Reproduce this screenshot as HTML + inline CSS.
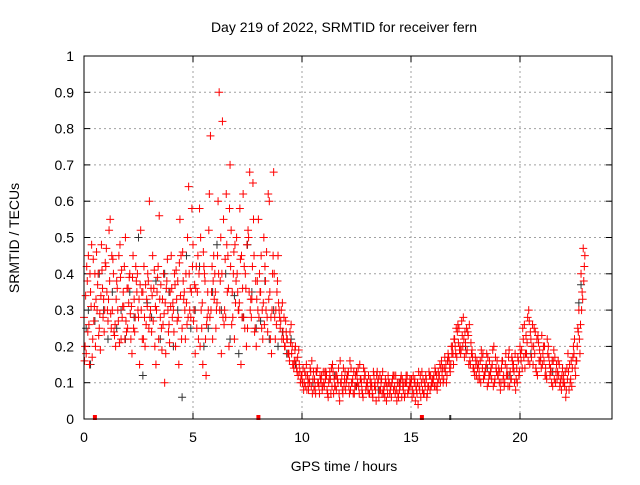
<!DOCTYPE html>
<html><head><meta charset="utf-8"><style>
body{margin:0;background:#fff}
svg text{font-family:"Liberation Sans",sans-serif;font-size:14px;fill:#000}
</style></head><body>
<svg id="chart" width="640" height="480" xmlns="http://www.w3.org/2000/svg">
<rect width="640" height="480" fill="#fff"/>
<text x="344" y="32" text-anchor="middle">Day 219 of 2022, SRMTID for receiver fern</text>
<text x="344" y="471" text-anchor="middle">GPS time / hours</text>
<text transform="translate(19,238) rotate(-90)" text-anchor="middle">SRMTID / TECUs</text>
<g id="grid"></g>
<g id="ticks"></g>
<g id="marks"></g>
<rect x="84" y="56" width="528" height="363" fill="none" stroke="#000" stroke-width="1"/>
</svg>
<script>
const xTicks=[0,5,10,15,20];
const yTicks=[0,0.1,0.2,0.3,0.4,0.5,0.6,0.7,0.8,0.9,1];
const yTickLabels=["0","0.1","0.2","0.3","0.4","0.5","0.6","0.7","0.8","0.9","1"];
const redA=[
.28,.18,.45,.35,.22,.40,.30,.25,.48,.33,
.42,.27,.55,.30,.23,.38,.45,.22,.35,.50,
.25,.40,.18,.33,.38,.28,.52,.35,.20,.31,
.60,.24,.36,.15,.42,.28,.33,.10,.38,.26,
.45,.30,.20,.38,.55,.25,.35,.32,.64,.28,
.48,.18,.35,.58,.25,.42,.12,.30,.78,.22,
.40,.32,.90,.18,.55,.28,.45,.70,.35,.22,
.50,.30,.15,.62,.40,.25,.68,.33,.45,.20,
.55,.35,.22,.42,.28,.60,.18,.68,.30,.45,
.25,.32,.20,.22,.18,.26,.15,.20,.17,.13,
.12,.10,.15,.08,.13,.11,.09,.14,.07,.12,
.10,.13,.06,.11,.15,.09,.12,.07,.10,.14,
.08,.12,.16,.10,.07,.13,.09,.11,.06,.12,
.10,.07,.09,.12,.05,.11,.08,.13,.06,.09,
.10,.06,.08,.12,.07,.09,.11,.06,.10,.08,
.09,.12,.05,.10,.08,.13,.07,.11,.09,.12,
.10,.14,.08,.12,.16,.11,.15,.18,.13,.20,
.22,.17,.25,.19,.28,.21,.24,.16,.19,.13,
.12,.15,.10,.18,.13,.09,.16,.11,.20,.14,
.12,.08,.16,.10,.14,.19,.11,.15,.08,.17,
.20,.14,.26,.18,.30,.22,.15,.24,.12,.19,
.23,.16,.12,.20,.14,.09,.17,.11,.15,.08,
.12,.06,.18,.10,.14,.22,.16,.30,.40,.47];
const redB=[
.20,.38,.15,.48,.27,.33,.40,.19,.36,.30,
.35,.52,.25,.40,.20,.30,.48,.28,.42,.24,
.32,.22,.45,.28,.40,.15,.35,.42,.26,.38,
.30,.45,.20,.35,.56,.25,.40,.18,.30,.35,
.28,.40,.33,.15,.45,.38,.22,.50,.30,.58,
.30,.42,.22,.50,.15,.38,.28,.62,.35,.45,
.25,.60,.38,.82,.30,.48,.20,.52,.40,.32,
.35,.58,.28,.42,.20,.50,.33,.65,.25,.38,
.40,.25,.50,.30,.62,.22,.40,.28,.35,.30,
.30,.22,.27,.18,.24,.20,.16,.14,.19,.11,
.14,.09,.12,.10,.16,.08,.13,.10,.11,.09,
.13,.08,.11,.14,.07,.12,.10,.16,.08,.11,
.11,.09,.14,.07,.12,.10,.15,.08,.11,.09,
.12,.09,.06,.10,.13,.08,.11,.07,.10,.12,
.08,.11,.09,.05,.10,.12,.08,.10,.07,.11,
.06,.10,.08,.13,.06,.11,.09,.07,.12,.10,
.12,.09,.13,.10,.14,.17,.12,.16,.20,.15,
.18,.26,.20,.23,.17,.25,.15,.21,.14,.17,
.14,.11,.17,.12,.15,.10,.13,.19,.11,.16,
.10,.14,.12,.18,.09,.13,.16,.10,.14,.12,
.16,.22,.18,.28,.15,.20,.25,.13,.21,.17,
.18,.12,.22,.15,.10,.19,.13,.16,.10,.14,
.09,.14,.08,.16,.20,.12,.25,.18,.35,.42];
const redC=[
.16,.42,.26,.31,.44,.20,.37,.29,.41,.24,
.47,.33,.29,.44,.26,.36,.21,.41,.31,.27,
.36,.29,.39,.24,.35,.33,.30,.22,.37,.40,
.28,.34,.41,.30,.22,.37,.26,.32,.44,.21,
.36,.24,.41,.28,.34,.46,.30,.26,.40,.35,
.27,.36,.45,.20,.32,.40,.26,.52,.30,.38,
.35,.45,.30,.40,.26,.62,.36,.42,.28,.48,
.40,.32,.45,.28,.36,.52,.30,.42,.24,.33,
.28,.45,.32,.38,.24,.35,.30,.40,.26,.32,
.27,.24,.20,.22,.16,.18,.14,.16,.12,.10,
.10,.13,.08,.11,.09,.13,.07,.10,.12,.08,
.09,.12,.10,.07,.13,.09,.11,.05,.12,.09,
.10,.13,.08,.11,.09,.12,.07,.10,.14,.08,
.08,.11,.07,.09,.12,.06,.10,.08,.11,.07,
.07,.10,.12,.08,.06,.11,.09,.07,.12,.09,
.11,.07,.09,.04,.12,.08,.10,.06,.13,.09,
.11,.13,.10,.15,.12,.14,.10,.17,.15,.18,
.20,.24,.19,.27,.22,.18,.23,.15,.17,.12,
.16,.13,.19,.11,.14,.17,.12,.15,.10,.13,
.14,.10,.11,.15,.12,.09,.17,.13,.11,.16,
.18,.25,.14,.21,.27,.17,.20,.14,.23,.16,
.15,.20,.11,.17,.13,.16,.10,.13,.09,.12,
.10,.08,.13,.11,.17,.14,.20,.22,.30,.38];
const redD=[
.34,.24,.40,.17,.31,.46,.23,.34,.28,.43,
.30,.38,.45,.24,.33,.27,.39,.31,.22,.36,
.39,.31,.25,.42,.30,.37,.22,.28,.33,.25,
.36,.27,.31,.39,.33,.19,.29,.36,.24,.31,
.32,.37,.27,.43,.22,.33,.40,.28,.36,.42,
.37,.25,.40,.30,.46,.22,.35,.28,.42,.33,
.30,.40,.50,.28,.44,.35,.58,.26,.46,.38,
.30,.44,.36,.25,.48,.35,.28,.55,.38,.30,
.35,.30,.26,.46,.33,.28,.45,.22,.38,.28,
.22,.28,.24,.18,.21,.15,.19,.13,.15,.12,
.08,.12,.10,.14,.07,.11,.13,.09,.10,.13,
.11,.07,.13,.09,.11,.08,.14,.10,.07,.13,
.12,.07,.10,.13,.09,.14,.11,.07,.13,.10,
.07,.10,.13,.08,.10,.12,.07,.09,.05,.10,
.09,.12,.07,.10,.08,.06,.10,.12,.08,.10,
.08,.11,.07,.09,.10,.07,.12,.09,.08,.11,
.09,.12,.11,.14,.10,.13,.16,.14,.18,.22,
.25,.21,.18,.20,.24,.19,.26,.18,.14,.15,
.11,.16,.14,.12,.18,.12,.14,.09,.17,.12,
.13,.16,.09,.12,.17,.11,.14,.18,.10,.13,
.19,.17,.23,.16,.24,.26,.18,.22,.16,.14,
.20,.14,.18,.12,.16,.11,.15,.12,.11,.10,
.13,.11,.15,.09,.18,.16,.24,.26,.33,.45];
const blackT=[0.1,0.2,0.3,0.5,0.7,0.9,1.1,1.3,1.5,1.7,1.9,2.1,2.3,2.5,2.7,2.9,3.1,3.3,3.5,3.7,3.9,4.1,4.3,4.5,4.7,4.9,5.1,5.3,5.5,5.7,5.9,6.1,6.3,6.5,6.7,6.9,7.1,7.3,7.5,7.7,7.9,8.1,8.3,8.5,8.7,8.9,9.1,9.3,9.5,9.7,10.5,11.5,12.5,13.5,14.5,17.5,18.5,19.5,20.5,21.5,22.7,22.8];
const blackV=[.25,.30,.15,.27,.40,.30,.22,.35,.25,.30,.22,.35,.28,.50,.12,.32,.28,.38,.22,.40,.35,.20,.30,.06,.45,.25,.30,.42,.20,.25,.35,.48,.30,.40,.22,.34,.18,.28,.48,.35,.25,.27,.38,.22,.30,.20,.24,.18,.22,.15,.10,.12,.09,.08,.10,.20,.14,.12,.18,.13,.32,.37];
const redMarkT=[0.5,8.0,15.5];
const blackMarkT=[16.8];
const NS="http://www.w3.org/2000/svg";
const X=h=>84+h*21.8, Y=v=>419-v*363;
const grid=document.getElementById('grid'), ticks=document.getElementById('ticks'), marks=document.getElementById('marks');
function line(p,x1,y1,x2,y2,st,dash){const l=document.createElementNS(NS,'line');l.setAttribute('x1',x1);l.setAttribute('y1',y1);l.setAttribute('x2',x2);l.setAttribute('y2',y2);l.setAttribute('stroke',st);if(dash)l.setAttribute('stroke-dasharray',dash);p.appendChild(l);return l;}
function txt(p,x,y,s,anc){const t=document.createElementNS(NS,'text');t.setAttribute('x',x);t.setAttribute('y',y);t.setAttribute('text-anchor',anc);t.textContent=s;p.appendChild(t);return t;}
xTicks.forEach(v=>{const x=X(v);
 if(v>0){const g=line(grid,x,56,x,419,'#a0a0a0','2,3');
 
 }
 line(ticks,x,419,x,413,'#000');line(ticks,x,56,x,62,'#000');
 const t=txt(ticks,x,442,String(v),'middle');
 
 });
yTicks.forEach((v,i)=>{const y=Y(v);
 if(v>0&&v<1){const g=line(grid,84,y,612,y,'#a0a0a0','2,3');
 
 }
 line(ticks,84,y,90,y,'#000');line(ticks,612,y,606,y,'#000');
 const t=txt(ticks,74,y+5,yTickLabels[i],'end');
 
 });
function cross(x,y,c,name){const p=document.createElementNS(NS,'path');p.setAttribute('d',`M${x-4},${y}h8M${x},${y-4}v8`);p.setAttribute('stroke',c);p.setAttribute('fill','none');
 
 
 marks.appendChild(p);}
blackV.forEach((v,i)=>cross(X(blackT[i]),Y(v),'#333','black-point'));
redA.forEach((v,i)=>cross(X(i*0.1),Y(v),'#ff0000','red-point'));
redB.forEach((v,i)=>cross(X(i*0.1+0.05),Y(v),'#ff0000','red-point'));
redC.forEach((v,i)=>cross(X(i*0.1+0.025),Y(v),'#ff0000','red-point'));
redD.forEach((v,i)=>cross(X(i*0.1+0.075),Y(v),'#ff0000','red-point'));
redMarkT.forEach(t=>{const r=document.createElementNS(NS,'rect');r.setAttribute('x',X(t)-2);r.setAttribute('y',415);r.setAttribute('width',4);r.setAttribute('height',5);r.setAttribute('fill','#ff0000');
 
 
 marks.appendChild(r);});
blackMarkT.forEach(t=>{const r=document.createElementNS(NS,'rect');r.setAttribute('x',X(t)-1);r.setAttribute('y',415);r.setAttribute('width',2);r.setAttribute('height',5);r.setAttribute('fill','#333');
 
 
 marks.appendChild(r);});
</script>
</body></html>
